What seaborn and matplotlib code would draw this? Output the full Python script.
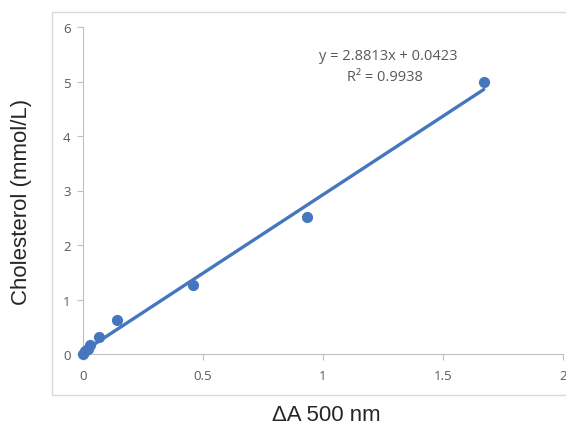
import numpy as np
import pandas as pd
import matplotlib
matplotlib.use("Agg")
import matplotlib.pyplot as plt
from matplotlib.patches import Rectangle
import seaborn as sns

# data
delta_a = [0.0, 0.01, 0.02, 0.03, 0.065, 0.14, 0.46, 0.935, 1.67]
chol = [0.0, 0.05, 0.1, 0.17, 0.32, 0.63, 1.26, 2.51, 5.0]
slope = 2.8813
intercept = 0.0423
r2 = 0.9938
x_ticks = [0, 0.5, 1, 1.5, 2]
x_tick_labels = ["0", "0.5", "1", "1.5", "2"]
y_ticks = [0, 1, 2, 3, 4, 5, 6]

df = pd.DataFrame({"dA": delta_a, "chol": chol})
fit = pd.DataFrame({"dA": [min(delta_a), max(delta_a)]})
fit["chol"] = slope * fit["dA"] + intercept

sns.set_style("white")
plt.rcParams["font.family"] = ["Open Sans", "DejaVu Sans"]

blue = "#4677BE"
grey_txt = "#595959"

fig = plt.figure(figsize=(5.66, 4.27), dpi=100)
# excel chart-area frame
fig.patches.append(Rectangle((52 / 566, 31 / 427), 0.95, 383 / 427,
                             transform=fig.transFigure, fill=False,
                             edgecolor="#d9d9d9", linewidth=1.0))
ax = fig.add_axes([83 / 566, 72 / 427, 480 / 566, 327 / 427])

sns.scatterplot(data=df, x="dA", y="chol", ax=ax, color=blue, s=65,
                edgecolor=blue, linewidth=0, zorder=3, clip_on=False)
sns.lineplot(data=fit, x="dA", y="chol", ax=ax, color=blue, linewidth=2.4,
             zorder=4, clip_on=False)

ax.set_xlim(0, 2)
ax.set_ylim(0, 6)
ax.set_xticks(x_ticks)
ax.set_xticklabels(x_tick_labels)
ax.set_yticks(y_ticks)
ax.tick_params(axis="both", colors="#bfbfbf", labelcolor=grey_txt,
               labelsize=9.5, length=4, width=0.8, direction="out",
               bottom=True, left=True)
ax.tick_params(axis="x", pad=7)
ax.tick_params(axis="y", pad=5)
sns.despine(ax=ax)
for side in ["left", "bottom"]:
    ax.spines[side].set_color("#bfbfbf")
    ax.spines[side].set_linewidth(0.8)
ax.set_facecolor("none")

ax.set_xlabel("")
ax.set_ylabel("")
fig.text(326 / 566, 1 - 416 / 427, "ΔA 500 nm", ha="center", va="center",
         fontsize=16, family=["Liberation Sans", "DejaVu Sans"])
fig.text(22 / 566, 1 - 202 / 427, "Cholesterol (mmol/L)", ha="center",
         va="center", rotation=90, fontsize=16,
         family=["Liberation Sans", "DejaVu Sans"])

ax.text(1.27, 5.48, f"y = {slope}x + {intercept}", ha="center",
        va="center", fontsize=10.5, color=grey_txt)
ax.text(1.26, 5.1, f"R² = {r2}", ha="center", va="center", fontsize=10.5,
        color=grey_txt)

fig.savefig("out.png", dpi=100)
